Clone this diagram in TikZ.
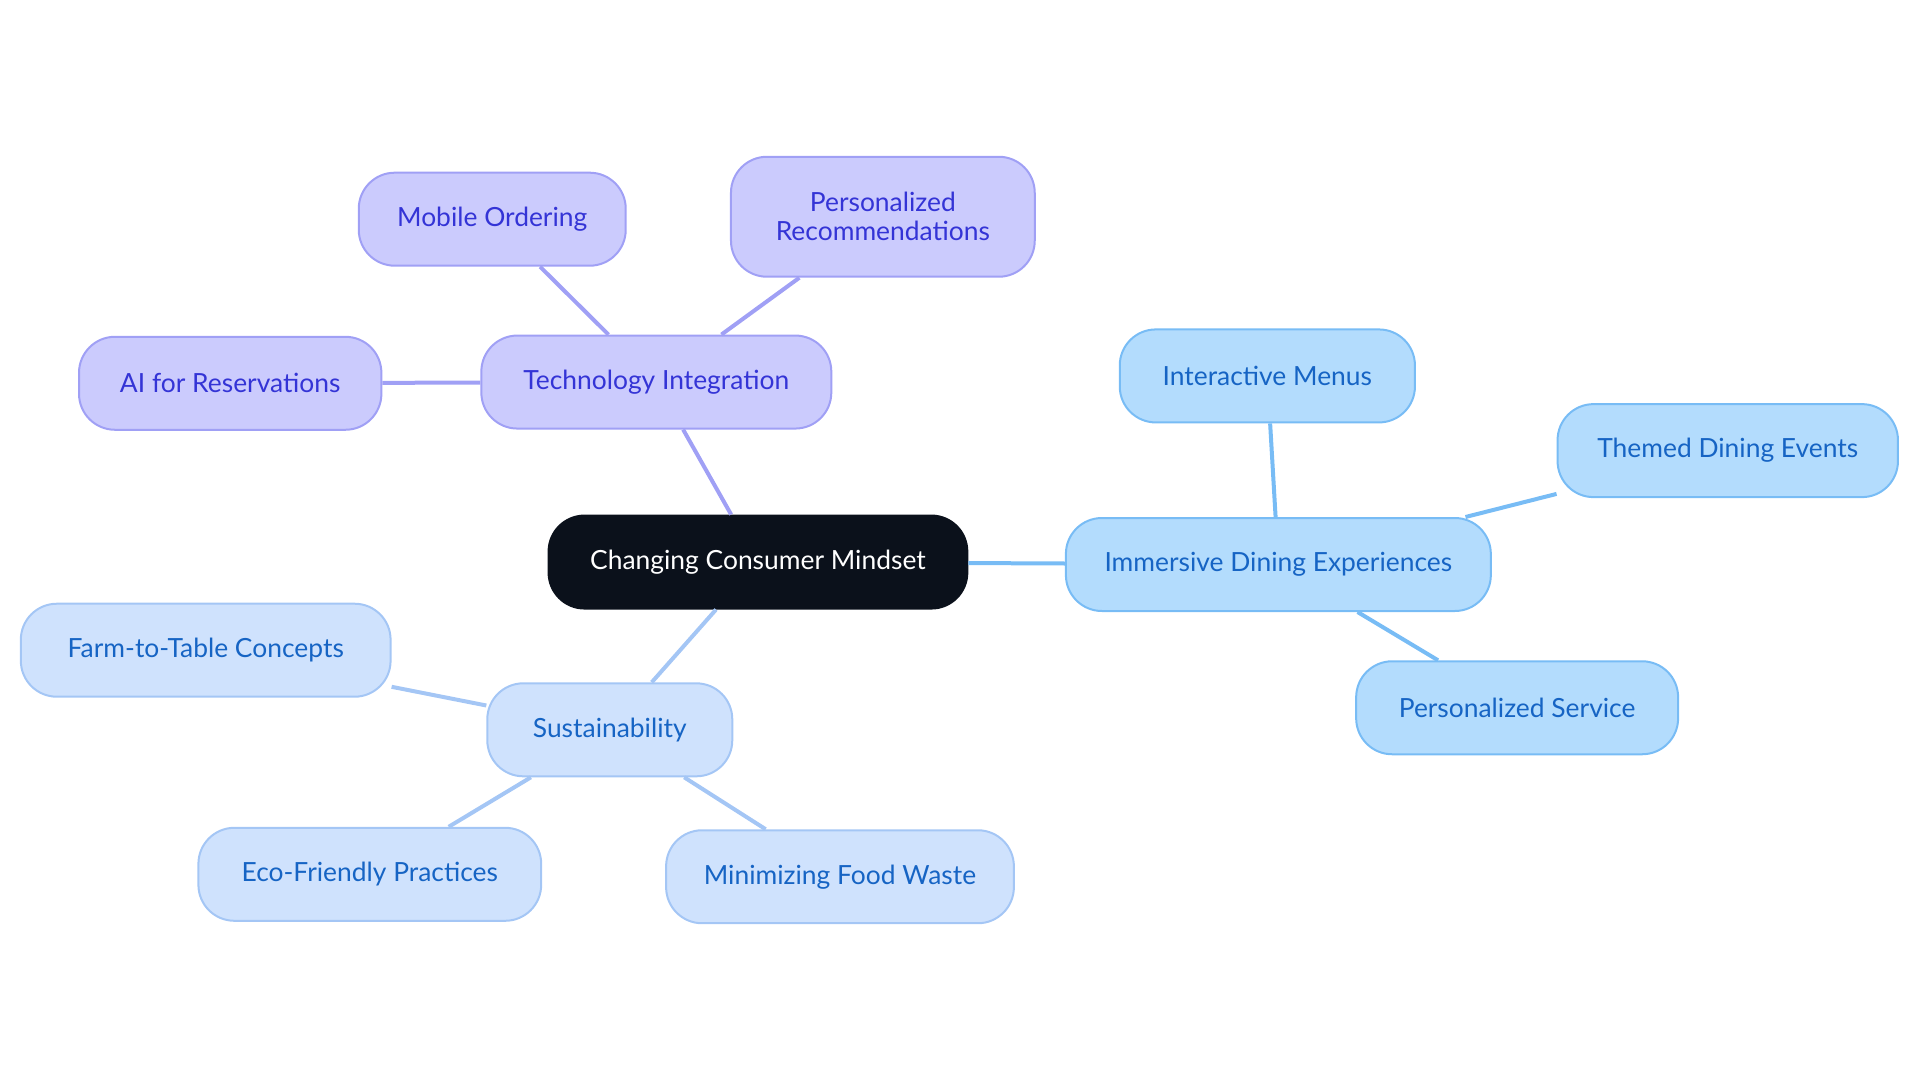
\documentclass[tikz,border=0pt]{standalone}
\usepackage{fontspec}
\setmainfont{Lato}
\definecolor{techfill}{RGB}{203,203,253}
\definecolor{techline}{RGB}{160,160,245}
\definecolor{techtext}{RGB}{52,52,214}
\definecolor{dinefill}{RGB}{179,220,253}
\definecolor{dineline}{RGB}{120,188,245}
\definecolor{dinetext}{RGB}{22,100,196}
\definecolor{susfill}{RGB}{207,226,253}
\definecolor{susline}{RGB}{164,198,245}
\definecolor{rootfill}{RGB}{11,17,27}
\tikzset{
	box/.style={draw, rectangle, rounded corners=18pt, line width=1pt, minimum height=46.5pt, align=center, font=\fontsize{13.2}{14}\selectfont},
	tech/.style={box, fill=techfill, draw=techline, text=techtext},
	dine/.style={box, fill=dinefill, draw=dineline, text=dinetext},
	sus/.style={box, fill=susfill, draw=susline, text=dinetext},
	link/.style={line width=2pt}
}

\begin{document}
\begin{tikzpicture}[x=0.6123pt, y=-0.6123pt]
	\useasboundingbox (0,0) rectangle (1568,884);
	\node [box, fill=rootfill, draw=rootfill, text=white, minimum width=209.4pt] (root) at (619,459) {Changing Consumer Mindset};

	\node [tech, minimum width=175pt] (techint) at (536,312) {Technology Integration};
	\node [tech, minimum width=133.5pt] (mobile) at (402,179) {Mobile Ordering};
	\node [tech, minimum width=151.9pt, minimum height=60pt, font=\fontsize{13.2}{14.5}\selectfont] (recomm) at (721,177) {Personalized\\Recommendations};
	\node [tech, minimum width=151.2pt] (aires) at (188,313) {AI for Reservations};

	\node [dine, minimum width=212.5pt] (dining) at (1044,461) {Immersive Dining Experiences};
	\node [dine, minimum width=147.6pt] (menus) at (1035,307) {Interactive Menus};
	\node [dine, minimum width=170.2pt] (themed) at (1411,368) {Themed Dining Events};
	\node [dine, minimum width=161pt] (service) at (1239,578) {Personalized Service};

	\node [sus, minimum width=122.5pt] (sustain) at (498,596) {Sustainability};
	\node [sus, minimum width=184.9pt] (farm) at (168,531) {Farm-to-Table Concepts};
	\node [sus, minimum width=171.4pt] (eco) at (302,714) {Eco-Friendly Practices};
	\node [sus, minimum width=173.9pt] (waste) at (686,716) {Minimizing Food Waste};

	\draw [link, techline] (root) -- (techint);
	\draw [link, techline] (techint) -- (mobile);
	\draw [link, techline] (techint) -- (recomm);
	\draw [link, techline] (techint) -- (aires);

	\draw [link, dineline] (root) -- (dining);
	\draw [link, dineline] (dining) -- (menus);
	\draw [link, dineline] (dining) -- (themed);
	\draw [link, dineline] (dining) -- (service);

	\draw [link, susline] (root) -- (sustain);
	\draw [link, susline] (sustain) -- (farm);
	\draw [link, susline] (sustain) -- (eco);
	\draw [link, susline] (sustain) -- (waste);
\end{tikzpicture}
\end{document}
